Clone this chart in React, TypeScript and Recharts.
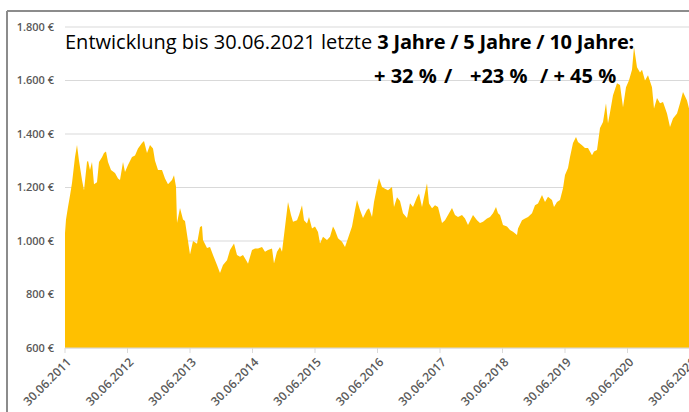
import React from "react";
import { AreaChart, Area, XAxis, YAxis, CartesianGrid } from "recharts";

// Decimal years (30.06.2011 = 2011.5) and gold price in EUR
const years = [
  2011.5, 2011.516, 2011.548, 2011.58, 2011.612, 2011.66, 2011.692, 2011.724, 2011.772, 2011.804,
  2011.852, 2011.868, 2011.9, 2011.932, 2011.964, 2012.012, 2012.044, 2012.092, 2012.124, 2012.156,
  2012.188, 2012.236, 2012.3, 2012.348, 2012.38, 2012.428, 2012.46, 2012.508, 2012.572, 2012.62,
  2012.668, 2012.732, 2012.764, 2012.812, 2012.86, 2012.908, 2012.94, 2012.988, 2013.052, 2013.1,
  2013.148, 2013.212, 2013.244, 2013.276, 2013.292, 2013.34, 2013.388, 2013.42, 2013.468, 2013.5,
  2013.548, 2013.612, 2013.66, 2013.692, 2013.708, 2013.772, 2013.82, 2013.868, 2013.932, 2013.98,
  2014.028, 2014.092, 2014.14, 2014.204, 2014.252, 2014.3, 2014.348, 2014.412, 2014.428, 2014.492,
  2014.54, 2014.588, 2014.652, 2014.7, 2014.748, 2014.812, 2014.844, 2014.892, 2014.94, 2014.972,
  2015.02, 2015.068, 2015.116, 2015.148, 2015.212, 2015.244, 2015.292, 2015.324, 2015.372, 2015.404,
  2015.452, 2015.5, 2015.548, 2015.58, 2015.628, 2015.692, 2015.74, 2015.788, 2015.82, 2015.868,
  2015.932, 2015.98, 2016.028, 2016.092, 2016.14, 2016.172, 2016.22, 2016.268, 2016.332, 2016.364,
  2016.412, 2016.444, 2016.492, 2016.524, 2016.572, 2016.62, 2016.668, 2016.732, 2016.764, 2016.812,
  2016.86, 2016.908, 2016.972, 2017.02, 2017.068, 2017.132, 2017.164, 2017.212, 2017.244, 2017.292,
  2017.324, 2017.372, 2017.42, 2017.468, 2017.532, 2017.58, 2017.628, 2017.692, 2017.74, 2017.788,
  2017.852, 2017.9, 2017.948, 2018.012, 2018.028, 2018.092, 2018.14, 2018.188, 2018.252, 2018.3,
  2018.348, 2018.396, 2018.428, 2018.46, 2018.508, 2018.572, 2018.62, 2018.668, 2018.732, 2018.748,
  2018.812, 2018.86, 2018.908, 2018.972, 2019.02, 2019.068, 2019.132, 2019.18, 2019.228, 2019.292,
  2019.324, 2019.372, 2019.42, 2019.468, 2019.5, 2019.548, 2019.58, 2019.628, 2019.676, 2019.708,
  2019.772, 2019.82, 2019.868, 2019.932, 2019.964, 2020.012, 2020.06, 2020.108, 2020.156, 2020.188,
  2020.22, 2020.268, 2020.332, 2020.38, 2020.428, 2020.476, 2020.524, 2020.572, 2020.604, 2020.652,
  2020.7, 2020.732, 2020.78, 2020.828, 2020.892, 2020.924, 2020.972, 2021.02, 2021.068, 2021.132,
  2021.18, 2021.228, 2021.292, 2021.34, 2021.388, 2021.452, 2021.484, 2021.5,
];

const prices = [
  1030, 1080, 1127, 1170, 1217, 1314, 1359, 1300, 1228, 1190,
  1295, 1300, 1265, 1295, 1212, 1220, 1295, 1313, 1329, 1335,
  1295, 1265, 1254, 1234, 1228, 1295, 1258, 1284, 1314, 1320,
  1346, 1366, 1374, 1329, 1359, 1346, 1300, 1265, 1265, 1234,
  1212, 1228, 1246, 1203, 1067, 1123, 1080, 1075, 1000, 950,
  1000, 990, 1052, 1056, 1004, 974, 978, 948, 910, 880,
  910, 928, 966, 991, 948, 941, 948, 922, 915, 966,
  972, 972, 978, 960, 966, 972, 916, 960, 978, 960,
  1052, 1146, 1097, 1072, 1078, 1097, 1134, 1078, 1065, 1090,
  1047, 1054, 1034, 991, 1016, 1004, 1016, 1054, 1040, 1010,
  997, 978, 1010, 1054, 1116, 1153, 1116, 1086, 1116, 1122,
  1090, 1146, 1202, 1235, 1202, 1195, 1190, 1202, 1127, 1164,
  1150, 1104, 1086, 1141, 1127, 1164, 1178, 1127, 1164, 1216,
  1140, 1122, 1134, 1127, 1067, 1078, 1097, 1123, 1097, 1090,
  1097, 1084, 1060, 1090, 1097, 1078, 1067, 1072, 1084, 1090,
  1104, 1127, 1104, 1097, 1060, 1054, 1041, 1035, 1022, 1047,
  1078, 1084, 1090, 1104, 1134, 1140, 1172, 1146, 1165, 1153,
  1127, 1146, 1153, 1197, 1247, 1273, 1314, 1366, 1389, 1370,
  1358, 1348, 1348, 1321, 1335, 1340, 1422, 1445, 1515, 1440,
  1480, 1545, 1590, 1583, 1500, 1575, 1601, 1640, 1725, 1650,
  1630, 1640, 1600, 1620, 1575, 1495, 1535, 1515, 1520, 1477,
  1426, 1458, 1477, 1515, 1557, 1525, 1495, 1490,
];

const tickYears = [2011.5, 2012.5, 2013.5, 2014.5, 2015.5, 2016.5, 2017.5, 2018.5, 2019.5, 2020.5, 2021.5];
const tickLabels = [
  "30.06.2011", "30.06.2012", "30.06.2013", "30.06.2014", "30.06.2015", "30.06.2016",
  "30.06.2017", "30.06.2018", "30.06.2019", "30.06.2020", "30.06.2021",
];
const yTicks = [600, 800, 1000, 1200, 1400, 1600, 1800];

const titleRegular = "Entwicklung bis 30.06.2021 letzte ";
const titleBold = "3 Jahre / 5 Jahre / 10 Jahre:";
const changeParts = ["+ 32 %", "/", "+23 %", "/ + 45 %"];

const data = years.map((t, i) => ({ t, price: prices[i] }));

const FONT = "'Open Sans', 'Noto Sans', sans-serif";
const LABEL = "#595959";

const fmtEuro = (v: number) =>
  v >= 1000 ? `${Math.floor(v / 1000)}.${String(v % 1000).padStart(3, "0")} €` : `${v} €`;

const XTick = (props: any) => {
  const { x, y, payload } = props;
  const idx = tickYears.indexOf(payload.value);
  const label = idx >= 0 ? tickLabels[idx] : "";
  const ax = x + 4;
  const ay = y + 5;
  return (
    <text
      x={ax}
      y={ay}
      dy="0.35em"
      textAnchor="end"
      transform={`rotate(-45 ${ax} ${ay})`}
      fontSize={12}
      fontWeight={600}
      fontFamily={FONT}
      fill={LABEL}
    >
      {label}
    </text>
  );
};

export default function App() {
  return (
    <div style={{ position: "absolute", left: 0, top: 0, width: 689, height: 412, overflow: "hidden", background: "#fff" }}>
      <AreaChart
        width={700}
        height={412}
        data={data}
        margin={{ top: 27, right: 10, left: 0, bottom: 0 }}
      >
        <CartesianGrid vertical={false} stroke="#d9d9d9" strokeWidth={1} />
        <XAxis
          dataKey="t"
          type="number"
          domain={[2011.5, 2021.5]}
          ticks={tickYears}
          interval={0}
          height={64}
          stroke="#d9d9d9"
          tickSize={5}
          tick={<XTick />}
        />
        <YAxis
          type="number"
          domain={[600, 1800]}
          ticks={yTicks}
          width={65}
          axisLine={false}
          tickLine={false}
          tickSize={6}
          tickMargin={5}
          tickFormatter={fmtEuro}
          tick={{ fill: LABEL, fontSize: 11, fontWeight: 600, fontFamily: FONT }}
        />
        <Area
          type="linear"
          dataKey="price"
          stroke="none"
          fill="#FFC000"
          fillOpacity={1}
          isAnimationActive={false}
        />
      </AreaChart>
      <svg
        width={689}
        height={412}
        style={{ position: "absolute", left: 0, top: 0, pointerEvents: "none" }}
      >
        <line x1={7} y1={11} x2={689} y2={11} stroke="#8c8c8c" strokeWidth={2} />
        <line x1={7} y1={11} x2={7} y2={412} stroke="#8c8c8c" strokeWidth={2} />
        <text x={65} y={49} fontSize={20} fontFamily={FONT} fill="#000" style={{ whiteSpace: "pre" }}>
          <tspan>{titleRegular}</tspan>
          <tspan fontWeight="bold" letterSpacing={-0.2}>{titleBold}</tspan>
        </text>
        <g fontSize={20} fontFamily={FONT} fontWeight="bold" fill="#000">
          <text x={374} y={83}>{changeParts[0]}</text>
          <text x={444} y={83}>{changeParts[1]}</text>
          <text x={470} y={83}>{changeParts[2]}</text>
          <text x={540} y={83}>{changeParts[3]}</text>
        </g>
      </svg>
    </div>
  );
}
